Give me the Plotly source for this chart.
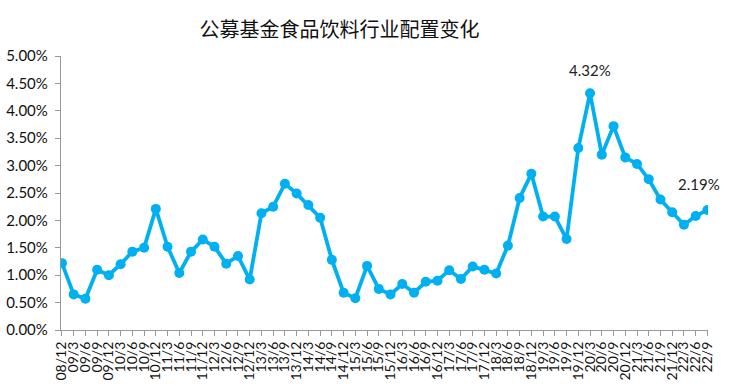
import plotly.graph_objects as go

quarters = ["08/12",
            "09/3", "09/6", "09/9", "09/12",
            "10/3", "10/6", "10/9", "10/12",
            "11/3", "11/6", "11/9", "11/12",
            "12/3", "12/6", "12/9", "12/12",
            "13/3", "13/6", "13/9", "13/12",
            "14/3", "14/6", "14/9", "14/12",
            "15/3", "15/6", "15/9", "15/12",
            "16/3", "16/6", "16/9", "16/12",
            "17/3", "17/6", "17/9", "17/12",
            "18/3", "18/6", "18/9", "18/12",
            "19/3", "19/6", "19/9", "19/12",
            "20/3", "20/6", "20/9", "20/12",
            "21/3", "21/6", "21/9", "21/12",
            "22/3", "22/6", "22/9"]

allocation_pct = [1.22,
                  0.65, 0.57, 1.10, 1.00,
                  1.20, 1.43, 1.50, 2.21,
                  1.52, 1.04, 1.43, 1.65,
                  1.52, 1.21, 1.35, 0.92,
                  2.13, 2.25, 2.67, 2.49,
                  2.28, 2.05, 1.28, 0.68,
                  0.58, 1.17, 0.75, 0.65,
                  0.84, 0.68, 0.88, 0.90,
                  1.09, 0.93, 1.16, 1.10,
                  1.03, 1.54, 2.41, 2.85,
                  2.07, 2.07, 1.66, 3.32,
                  4.32, 3.20, 3.72, 3.15,
                  3.03, 2.75, 2.38, 2.15,
                  1.92, 2.08, 2.19]

y_ticks = [0, 0.5, 1.0, 1.5, 2.0, 2.5, 3.0, 3.5, 4.0, 4.5, 5.0]
y_ticktext = [f"{v:.2f}%" for v in y_ticks]

labelled = {45: "4.32%", 55: "2.19%"}

xs = list(range(len(quarters)))
font_family = "Lato, Open Sans, sans-serif"

fig = go.Figure()
fig.add_trace(go.Scatter(
    x=xs, y=allocation_pct, mode="lines+markers",
    line=dict(color="#00B0F0", width=3.8),
    marker=dict(color="#00B0F0", size=10),
    hoverinfo="skip", showlegend=False,
))

annotations = []
for idx, txt in labelled.items():
    annotations.append(dict(
        x=xs[idx], y=allocation_pct[idx], text=txt, showarrow=False,
        xanchor="center", yanchor="bottom",
        yshift=12 if idx == 45 else 15, xshift=0 if idx == 45 else -8,
        font=dict(family=font_family, size=15, color="#222"),
    ))

fig.update_layout(
    width=730, height=387,
    margin=dict(l=61, r=22, t=56, b=57, autoexpand=False),
    paper_bgcolor="white", plot_bgcolor="white",
    title=dict(text="公募基金食品饮料行业配置变化", x=0.465, xanchor="center",
               y=1 - 30 / 387, yanchor="middle",
               font=dict(family="Noto Sans CJK SC", size=20, color="#111")),
    annotations=annotations,
    xaxis=dict(
        tickmode="array", tickvals=xs, ticktext=quarters,
        range=[-0.08, 55.05], tickangle=-90,
        showline=True, linecolor="#999", linewidth=1.3,
        ticks="outside", ticklen=5, tickcolor="#999", tickwidth=1,
        showgrid=False, zeroline=False, automargin=False,
        tickfont=dict(family=font_family, size=14, color="#111"),
    ),
    yaxis=dict(
        tickmode="array", tickvals=y_ticks, ticktext=y_ticktext,
        range=[0, 5.0],
        showline=True, linecolor="#999", linewidth=1.3,
        ticks="outside", ticklen=5, tickcolor="#999", tickwidth=1,
        showgrid=False, zeroline=False, automargin=False,
        ticklabelstandoff=4,
        tickfont=dict(family=font_family, size=15, color="#111"),
    ),
)

fig.write_html("out.html")
